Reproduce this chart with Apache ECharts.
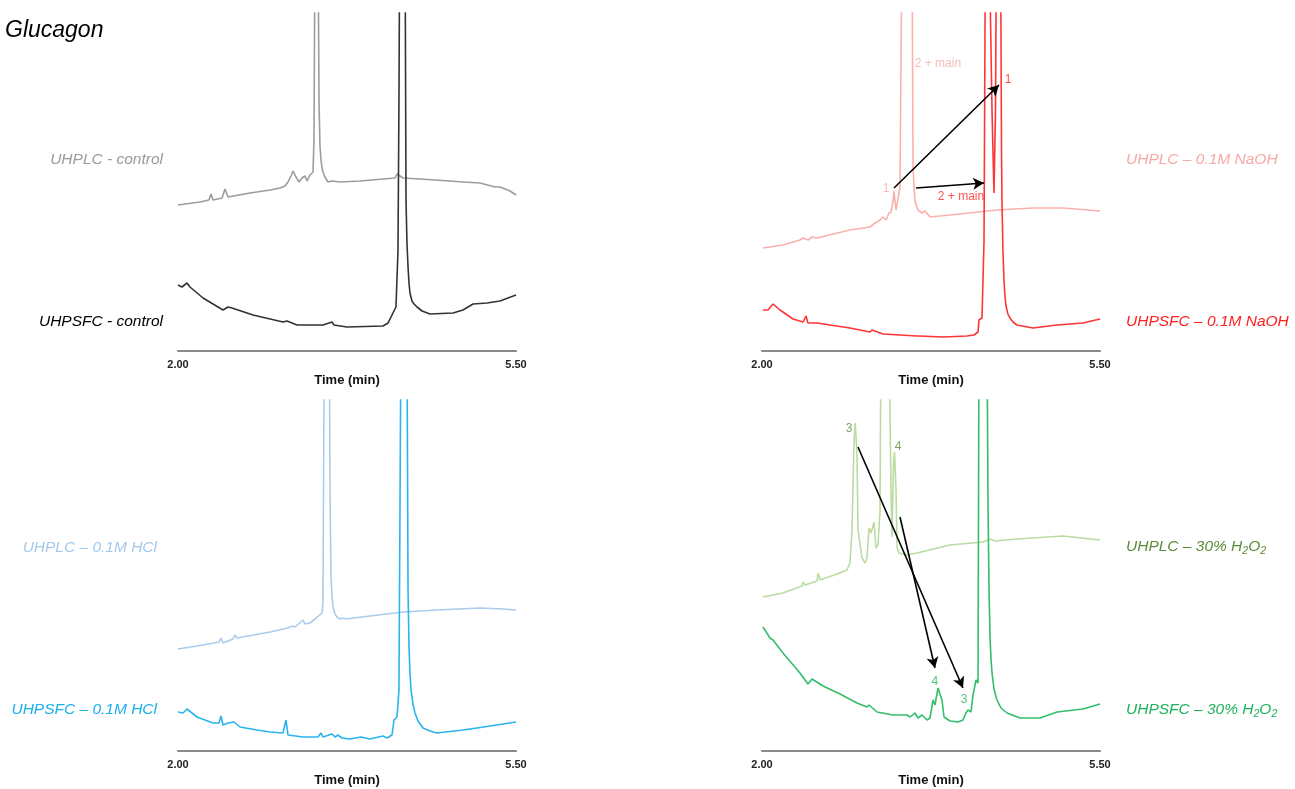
<!DOCTYPE html>
<html>
<head>
<meta charset="utf-8">
<script src="https://cdn.jsdelivr.net/npm/echarts@6/dist/echarts.min.js"></script>
<style>
html,body{margin:0;padding:0;background:#fff;}
#chart{width:1295px;height:789px;}
</style>
</head>
<body>
<div id="chart"></div>
<script>
// ---------- DATA (time in min, signal in arbitrary units) ----------
const xTicks = [2.00, 5.50];

// Panel 1: control
const ctlLcTime = [2.000,2.228,2.321,2.342,2.362,2.456,2.487,2.518,2.746,2.953,3.056,3.108,3.139,3.170,3.191,3.222,3.253,3.284,3.315,3.336,3.367,3.398,3.408,3.419,3.450,3.460,3.470,3.481,3.491,3.501,3.522,3.553,3.595,3.678,3.885,4.123,4.247,4.268,4.288,4.330,4.506,4.817,4.951,5.127,5.283,5.334,5.438,5.500];
const ctlLcSig  = [146,149,151,157,151,153,162,154,158,161,163,165,169,175,180,174,169,173,175,170,176,179,211,420,420,251,205,191,183,179,174,169,170,169,170,172,173,177,176,173,172,170,169,168,164,164,160,156];
const ctlSfcTime = [2.000,2.041,2.093,2.124,2.259,2.466,2.518,2.559,2.777,3.087,3.129,3.232,3.470,3.481,3.501,3.595,3.615,3.750,4.123,4.175,4.226,4.257,4.278,4.288,4.296,4.351,4.361,4.371,4.382,4.392,4.402,4.423,4.444,4.475,4.527,4.609,4.848,4.951,5.055,5.200,5.334,5.500];
const ctlSfcSig  = [66,64,68,64,53,41,44,43,36,29,30,26,26,28,26,29,26,24,25,28,38,44,100,250,420,420,151,108,84,68,58,50,47,44,40,37,38,41,47,48,50,56];

// Panel 2: 0.1M NaOH
const naohLcTime = [2.010,2.217,2.393,2.425,2.476,2.518,2.570,2.911,3.118,3.170,3.222,3.253,3.284,3.315,3.336,3.357,3.367,3.377,3.388,3.408,3.429,3.450,3.553,3.564,3.574,3.584,3.595,3.615,3.657,3.688,3.740,3.947,4.433,4.806,5.117,5.500];
const naohLcSig  = [103,106,111,113,111,114,113,121,124,128,131,134,131,138,139,150,160,150,141,142,164,420,420,184,165,151,146,141,138,140,134,136,141,143,143,140];
const naohSfcTime = [2.010,2.062,2.114,2.186,2.321,2.425,2.456,2.476,2.570,2.704,2.911,3.118,3.139,3.253,3.605,3.615,3.626,3.874,4.123,4.195,4.237,4.247,4.278,4.299,4.314,4.351,4.382,4.402,4.418,4.428,4.470,4.480,4.485,4.495,4.506,4.516,4.527,4.547,4.568,4.599,4.640,4.806,5.055,5.324,5.500];
const naohSfcSig  = [41,41,47,41,32,29,35,28,28,26,23,19,21,17,15,17,15,14,15,16,19,31,33,110,420,420,240,158,240,420,420,200,150,100,70,55,45,37,33,29,26,23,26,28,32];

// Panel 3: 0.1M HCl
const hclLcTime = [2.000,2.259,2.425,2.445,2.466,2.570,2.590,2.611,2.953,3.139,3.180,3.212,3.294,3.315,3.367,3.419,3.439,3.491,3.501,3.515,3.567,3.574,3.584,3.595,3.605,3.626,3.646,3.678,3.709,3.740,3.988,4.330,4.682,5.127,5.365,5.500];
const hclLcSig  = [102,106,109,113,108,112,116,113,119,123,125,124,131,127,128,132,131,138,148,420,420,260,174,155,144,137,134,132,133,132,135,139,141,143,142,141];
const hclSfcTime = [2.000,2.052,2.093,2.197,2.362,2.425,2.445,2.466,2.518,2.580,2.642,2.818,2.953,3.087,3.118,3.139,3.294,3.450,3.481,3.501,3.595,3.626,3.657,3.698,3.781,3.895,3.988,4.123,4.164,4.216,4.237,4.268,4.288,4.309,4.371,4.382,4.392,4.402,4.413,4.433,4.454,4.485,4.537,4.609,4.682,4.951,5.096,5.500];
const hclSfcSig  = [39,38,42,34,28,28,35,26,28,29,24,21,19,18,31,16,14,14,18,14,17,14,16,13,12,14,12,15,13,16,31,34,61,420,420,161,105,78,61,47,38,30,23,20,18,21,23,29];

// Panel 4: 30% H2O2
const peroxLcTime = [2.010,2.217,2.414,2.425,2.445,2.570,2.580,2.601,2.777,2.880,2.911,2.932,2.953,2.966,2.984,2.994,3.036,3.067,3.087,3.108,3.129,3.139,3.160,3.180,3.201,3.222,3.232,3.315,3.336,3.346,3.362,3.372,3.388,3.398,3.419,3.501,3.605,3.947,4.288,4.361,4.413,4.640,5.117,5.500];
const peroxLcSig  = [154,158,165,169,166,170,178,171,177,181,188,221,311,328,294,221,193,188,193,223,218,216,229,203,206,240,420,420,260,214,290,299,260,204,198,196,198,206,209,212,210,212,215,211];
const peroxSfcTime = [2.010,2.083,2.114,2.124,2.217,2.393,2.476,2.518,2.632,2.808,2.984,3.087,3.108,3.191,3.357,3.501,3.512,3.533,3.584,3.615,3.657,3.709,3.740,3.771,3.791,3.823,3.864,3.885,3.947,4.030,4.081,4.112,4.133,4.164,4.185,4.216,4.237,4.247,4.330,4.340,4.351,4.361,4.371,4.382,4.402,4.433,4.475,4.537,4.672,4.879,5.055,5.324,5.500];
const peroxSfcSig  = [124,113,111,113,98,78,67,72,65,57,48,44,46,39,36,36,38,34,38,33,36,31,33,51,46,63,51,34,30,29,31,38,41,39,56,71,68,420,420,250,161,115,92,78,62,51,43,38,33,33,39,42,47];

// Annotations: [panel, text, time, signal, colour]
const peakLabels = [
  [1, '2 + main', 3.822, 287, '#f6a9a6'],
  [1, '1', 3.284, 162, '#f6a9a6'],
  [1, '1', 4.547, 271, '#ff2424'],
  [1, '2 + main', 4.061, 154, '#ff2424'],
  [3, '3', 2.901, 322, '#5b8c3c'],
  [3, '4', 3.408, 304, '#5b8c3c'],
  [3, '4', 3.791, 69, '#22b85c'],
  [3, '3', 4.092, 51, '#22b85c']
];
// Arrows: [panel, t1, v1, t2, v2]
const shiftArrows = [
  [1, 3.367, 163, 4.454, 266],
  [1, 3.595, 163, 4.299, 168],
  [3, 2.994, 304, 4.081, 63],
  [3, 3.429, 234, 3.791, 83]
];

// ---------- CHART ----------
const FONT = 'Liberation Sans, Arial, sans-serif';
const zip = (t, v) => t.map((x, i) => [x, v[i]]);

const grids = [
  {left: 178, top: 13, width: 338, height: 338},
  {left: 762, top: 13, width: 338, height: 338},
  {left: 178, top: 400, width: 338, height: 351},
  {left: 762, top: 400, width: 338, height: 351}
];
const yMax = [338, 338, 351, 351];

const xAxes = grids.map((g, i) => ({
  type: 'value', gridIndex: i, min: xTicks[0], max: xTicks[1], interval: xTicks[1] - xTicks[0],
  axisLine: {show: true, lineStyle: {color: '#8a8a8a', width: 2}},
  axisTick: {show: false}, splitLine: {show: false},
  axisLabel: {show: true, formatter: v => v.toFixed(2), fontFamily: FONT, fontWeight: 'bold', fontSize: 11, color: '#222', margin: 8},
  name: 'Time (min)', nameLocation: 'middle', nameGap: 23,
  nameTextStyle: {fontFamily: FONT, fontWeight: 'bold', fontSize: 13, color: '#111'}
}));
const yAxes = grids.map((g, i) => ({
  type: 'value', gridIndex: i, min: 0, max: yMax[i], show: false
}));

function trace(idx, t, v, color) {
  return {
    type: 'line', xAxisIndex: idx, yAxisIndex: idx, data: zip(t, v),
    showSymbol: false, symbol: 'none', smooth: false, clip: true,
    lineStyle: {color: color, width: 1.6}, animation: false, silent: true
  };
}

const series = [
  trace(0, ctlLcTime, ctlLcSig, '#9c9c9c'),
  trace(0, ctlSfcTime, ctlSfcSig, '#333333'),
  trace(1, naohLcTime, naohLcSig, '#f9b1ae'),
  trace(1, naohSfcTime, naohSfcSig, '#ff3535'),
  trace(2, hclLcTime, hclLcSig, '#abcbeb'),
  trace(2, hclSfcTime, hclSfcSig, '#2ab4ee'),
  trace(3, peroxLcTime, peroxLcSig, '#badca2'),
  trace(3, peroxSfcTime, peroxSfcSig, '#33be6c')
];

// annotation series per panel
[1, 3].forEach(p => {
  series.push({
    type: 'scatter', xAxisIndex: p, yAxisIndex: p, symbolSize: 0, silent: true, animation: false,
    data: peakLabels.filter(a => a[0] === p).map(a => ({
      value: [a[2], a[3]], name: a[1],
      label: {show: true, position: 'inside', formatter: a[1], color: a[4], fontFamily: FONT, fontSize: 12}
    })),
    markLine: {
      silent: true, animation: false, symbol: ['none', 'arrow'], symbolSize: [9, 11],
      lineStyle: {color: '#000', width: 1.6, type: 'solid'}, label: {show: false},
      data: shiftArrows.filter(a => a[0] === p).map(a => [{coord: [a[1], a[2]]}, {coord: [a[3], a[4]]}])
    }
  });
});

const labelStyle = (color) => ({fontFamily: FONT, fontSize: 15.5, fontStyle: 'italic', fill: color});
const sub = {fontSize: 10.5, fontStyle: 'italic', fontFamily: FONT, padding: [9, 0, 0, 0]};

function txt(x, y, text, color, align, rich) {
  const s = Object.assign(labelStyle(color), {text: text, textAlign: align, textVerticalAlign: 'middle'});
  if (rich) s.rich = {s: Object.assign({}, sub, {fill: color, color: color}), m: {fontSize: 15.5, fontStyle: 'italic', fontFamily: FONT, fill: color, color: color}};
  return {type: 'text', x: x, y: y, style: s, silent: true};
}

const graphic = [
  {type: 'text', x: 5, y: 31, silent: true, style: {text: 'Glucagon', fontFamily: FONT, fontSize: 23, fontStyle: 'italic', fill: '#000', textVerticalAlign: 'middle'}},
  txt(163, 160, 'UHPLC - control', '#9a9a9a', 'right'),
  txt(163, 322, 'UHPSFC - control', '#000000', 'right'),
  txt(1126, 160, 'UHPLC \u2013 0.1M NaOH', '#f6a9a6', 'left'),
  txt(1126, 322, 'UHPSFC \u2013 0.1M NaOH', '#ff1f1f', 'left'),
  txt(157, 548, 'UHPLC \u2013 0.1M HCl', '#a6c8ea', 'right'),
  txt(157, 710, 'UHPSFC \u2013 0.1M HCl', '#1aafeb', 'right'),
  txt(1126, 547, '{m|UHPLC \u2013 30% H}{s|2}{m|O}{s|2}', '#5b8c3c', 'left', true),
  txt(1126, 710, '{m|UHPSFC \u2013 30% H}{s|2}{m|O}{s|2}', '#1db35a', 'left', true)
];

const chart = echarts.init(document.getElementById('chart'), null, {renderer: 'canvas'});
chart.setOption({
  backgroundColor: '#ffffff',
  animation: false,
  grid: grids,
  xAxis: xAxes,
  yAxis: yAxes,
  series: series,
  graphic: graphic
});
</script>
</body>
</html>
